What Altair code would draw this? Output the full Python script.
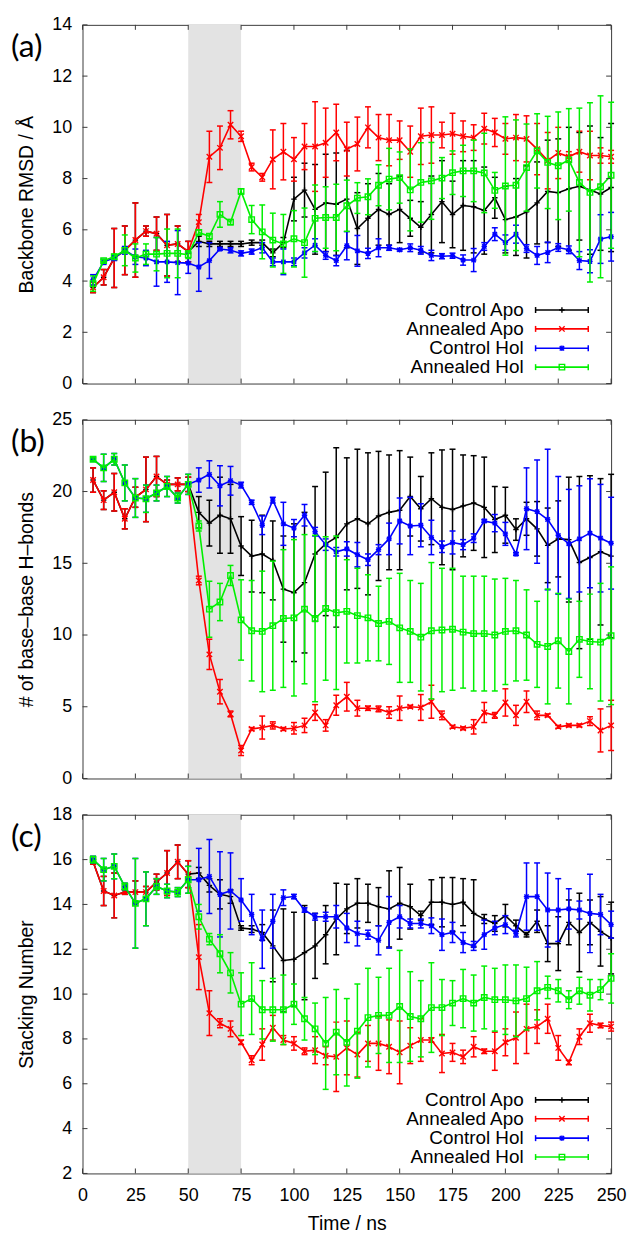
import altair as alt
import pandas as pd

TIME = [5, 10, 15, 20, 25, 30, 35, 40, 45, 50,
        55, 60, 65, 70, 75, 80, 85, 90, 95, 100,
        105, 110, 115, 120, 125, 130, 135, 140, 145, 150,
        155, 160, 165, 170, 175, 180, 185, 190, 195, 200,
        205, 210, 215, 220, 225, 230, 235, 240, 245, 250]

SERIES = ["Control Apo", "Annealed Apo", "Control Hol", "Annealed Hol"]
COLORS = ["#000000", "#ff0000", "#0000ff", "#00f000"]
SHAPES = ["M-1,0L1,0M0,-1L0,1",
          "M-1,-1L1,1M-1,1L1,-1",
          "M-1,0L1,0M0,-1L0,1M-0.8,-0.8L0.8,0.8M-0.8,0.8L0.8,-0.8",
          "square"]
SHADE_START = [50]
SHADE_END = [75]
X_TICKS = [0, 25, 50, 75, 100, 125, 150, 175, 200, 225, 250]

# ---------------- (a) Backbone RMSD ----------------
A_CA = [3.75, 4.15, 4.9, 5.2, 5.6, 5.95, 5.85, 5.4, 5.45, 5.15,
        5.55, 5.45, 5.45, 5.45, 5.45, 5.5, 5.5, 5.1, 5.5, 7.2,
        7.55, 6.8, 7.05, 7.0, 7.2, 6.05, 6.45, 6.8, 6.6, 6.8,
        6.45, 6.1, 6.6, 7.1, 6.6, 6.95, 6.9, 6.75, 7.25, 6.4,
        6.5, 6.7, 7.05, 7.5, 7.45, 7.6, 7.7, 7.55, 7.4, 7.65]
A_CA_ERR = [0.2, 0.3, 1.15, 0.95, 1.45, 0.2, 0.65, 1.2, 0.7, 0.4,
            0.2, 0.1, 0.1, 0.1, 0.1, 0.1, 0.1, 0.15, 0.2, 0.85,
            1.05, 1.75, 1.9, 2.0, 1.9, 1.4, 1.35, 1.4, 1.2, 1.3,
            0.7, 1.0, 1.5, 1.6, 1.3, 1.75, 1.8, 1.7, 0.8, 1.3,
            1.5, 1.8, 1.6, 2.0, 2.1, 2.4, 2.1, 2.5, 2.2, 2.5]
A_AA = [3.75, 4.15, 4.9, 5.2, 5.6, 5.95, 5.85, 5.4, 5.45, 5.15,
        6.3, 8.85, 9.2, 10.1, 9.65, 8.45, 8.05, 8.75, 9.05, 8.75,
        9.25, 9.25, 9.4, 9.8, 9.15, 9.35, 10.0, 9.6, 9.5, 9.5,
        9.05, 9.65, 9.7, 9.7, 9.75, 9.65, 9.6, 9.95, 9.8, 9.55,
        9.6, 9.55, 9.15, 8.7, 9.0, 8.85, 9.05, 8.9, 8.9, 8.85]
A_AA_ERR = [0.2, 0.3, 1.15, 0.95, 1.45, 0.2, 0.65, 1.2, 0.7, 0.4,
            0.3, 1.0, 0.85, 0.55, 0.2, 0.15, 0.15, 1.15, 1.1, 0.85,
            0.9, 1.75, 1.35, 1.1, 1.05, 1.05, 0.8, 0.9, 1.0, 0.75,
            1.0, 1.1, 1.1, 0.5, 0.8, 0.6, 0.5, 0.6, 0.55, 0.6,
            0.9, 0.9, 1.0, 1.1, 1.0, 0.2, 0.8, 0.95, 0.3, 0.25]
A_CH = [4.05, 4.75, 4.9, 5.2, 4.95, 4.9, 4.75, 4.75, 4.72, 4.7,
        4.55, 4.8, 5.25, 5.2, 5.08, 5.15, 5.3, 4.75, 4.75, 4.75,
        5.1, 5.4, 5.0, 4.8, 5.38, 5.18, 5.08, 5.3, 5.3, 5.22,
        5.3, 5.2, 5.0, 4.97, 4.99, 4.82, 4.82, 5.35, 5.83, 5.5,
        5.83, 5.27, 5.0, 5.12, 5.31, 5.22, 4.8, 4.77, 5.64, 5.73]
A_CH_ERR = [0.2, 0.1, 0.1, 0.15, 0.3, 0.3, 0.95, 0.8, 1.25, 0.4,
            0.95, 0.7, 0.05, 0.1, 0.1, 0.1, 0.2, 0.15, 0.5, 0.15,
            0.2, 0.25, 0.15, 0.2, 0.55, 0.6, 0.2, 0.35, 0.1, 0.05,
            0.15, 0.15, 0.2, 0.1, 0.1, 0.2, 0.45, 0.15, 0.25, 0.3,
            0.35, 0.15, 0.35, 0.4, 0.15, 0.15, 0.35, 0.45, 0.95, 0.95]
A_AH = [3.9, 4.8, 4.95, 5.2, 4.9, 5.05, 5.05, 5.08, 5.08, 5.03,
        5.9, 5.75, 6.6, 6.3, 7.5, 6.4, 5.92, 5.6, 5.45, 5.65,
        5.5, 6.45, 6.48, 6.48, 6.94, 7.24, 7.29, 7.74, 7.98, 8.04,
        7.56, 7.85, 7.91, 8.02, 8.23, 8.3, 8.3, 8.22, 7.54, 7.71,
        7.74, 8.43, 9.08, 8.63, 8.5, 8.73, 7.85, 7.46, 7.68, 8.13]
A_AH_ERR = [0.3, 0.05, 0.1, 0.6, 0.55, 0.4, 0.65, 0.95, 0.95, 0.15,
            0.1, 0.1, 0.5, 0.1, 0.1, 0.55, 1.05, 1.05, 1.15, 1.1,
            1.35, 1.3, 1.2, 1.3, 1.0, 0.6, 0.7, 0.8, 1.2, 1.0,
            1.6, 1.55, 1.5, 0.8, 0.85, 1.0, 1.2, 1.55, 0.7, 2.7,
            2.55, 1.7, 1.45, 1.8, 2.1, 2.0, 2.9, 3.5, 3.55, 2.85]

# ---------------- (b) base-base H-bonds ----------------
B_CA = [20.8, 19.4, 19.95, 18.1, 19.6, 20.15, 21.05, 20.5, 20.5, 20.5,
        18.55, 17.8, 18.35, 18.1, 16.2, 15.5, 15.65, 15.2, 13.2, 12.95,
        13.65, 15.65, 16.35, 16.8, 17.75, 18.1, 17.75, 18.3, 18.55, 18.7,
        19.65, 18.8, 19.5, 18.9, 18.75, 19.0, 19.2, 18.9, 18.05, 18.35,
        17.35, 18.1, 17.4, 16.25, 16.7, 16.65, 15.05, 15.4, 15.8, 15.5]
B_CA_ERR = [0.85, 0.65, 1.3, 0.7, 0.7, 2.25, 1.4, 0.3, 0.45, 0.5,
            1.1, 1.6, 2.65, 2.4, 2.05, 2.5, 2.7, 2.75, 3.7, 4.8,
            4.9, 4.7, 5.0, 6.25, 4.6, 4.85, 4.95, 4.5, 4.0, 4.15,
            2.75, 2.25, 3.2, 4.0, 4.2, 3.55, 3.3, 3.5, 2.3, 1.95,
            0.75, 1.15, 1.9, 2.6, 2.65, 4.35, 6.0, 5.7, 5.1, 5.7]
B_AA = [20.8, 19.4, 19.95, 18.1, 19.6, 20.15, 21.05, 20.5, 20.5, 20.5,
        13.8, 8.65, 6.05, 4.5, 1.95, 3.45, 3.55, 3.7, 3.45, 3.5,
        3.7, 4.6, 3.7, 5.1, 5.7, 4.9, 4.9, 4.85, 4.6, 4.9,
        5.0, 4.95, 5.35, 4.4, 3.6, 3.5, 3.6, 4.6, 4.4, 5.3,
        4.4, 5.35, 4.4, 4.4, 3.6, 3.7, 3.7, 4.0, 3.35, 3.7]
B_AA_ERR = [0.85, 0.65, 1.3, 0.7, 0.7, 2.25, 1.4, 0.3, 0.45, 0.5,
            0.3, 1.05, 0.85, 0.2, 0.35, 0.1, 0.8, 0.25, 0.1, 0.4,
            0.5, 0.55, 0.4, 0.7, 1.0, 0.55, 0.15, 0.2, 0.4, 0.85,
            0.1, 0.9, 1.15, 0.3, 0.1, 0.1, 0.5, 0.7, 0.2, 0.95,
            0.7, 0.75, 0.3, 0.1, 0.1, 0.1, 0.1, 0.3, 1.5, 1.75]
B_CH = [22.25, 21.65, 22.25, 20.6, 19.55, 19.5, 19.9, 20.35, 19.55, 20.5,
        20.8, 21.2, 20.4, 20.75, 20.45, 19.25, 17.65, 19.4, 17.75, 17.45,
        18.35, 17.2, 16.3, 15.8, 16.0, 15.6, 15.25, 15.95, 16.7, 17.95,
        17.6, 17.65, 16.8, 16.15, 16.45, 16.3, 16.75, 17.95, 17.8, 17.05,
        15.65, 18.8, 18.6, 18.05, 16.95, 16.35, 16.7, 17.1, 16.75, 16.4]
B_CH_ERR = [0.1, 0.95, 0.4, 1.25, 1.35, 0.95, 0.55, 0.7, 0.35, 0.7,
            0.85, 0.95, 1.4, 1.0, 0.2, 0.15, 0.65, 0.2, 1.5, 0.6,
            0.75, 0.3, 0.4, 0.3, 0.5, 0.85, 0.4, 0.35, 1.1, 1.6,
            2.0, 1.5, 1.2, 0.4, 0.8, 0.35, 0.3, 0.1, 0.6, 0.8,
            0.1, 2.85, 3.6, 4.9, 4.1, 3.8, 3.7, 3.8, 3.75, 3.2]
B_AH = [22.25, 21.65, 22.25, 20.6, 19.55, 19.5, 19.9, 20.35, 19.55, 20.5,
        17.6, 11.8, 12.3, 14.15, 11.05, 10.3, 10.25, 10.65, 11.15, 11.2,
        11.8, 11.15, 11.85, 11.55, 11.65, 11.35, 11.2, 10.8, 10.95, 10.5,
        10.25, 9.85, 10.3, 10.35, 10.4, 10.2, 10.1, 10.1, 10.0, 10.25,
        10.3, 10.0, 9.35, 9.2, 9.6, 8.85, 9.7, 9.55, 9.5, 9.95]
B_AH_ERR = [0.1, 0.95, 0.4, 1.25, 1.35, 0.95, 0.55, 0.7, 0.35, 0.7,
            0.35, 1.95, 1.3, 0.7, 2.8, 3.5, 4.2, 4.5, 4.8, 5.45,
            5.2, 5.8, 5.0, 5.35, 3.6, 3.3, 3.0, 2.6, 3.0, 3.8,
            3.55, 3.75, 4.75, 4.3, 4.25, 3.9, 4.0, 4.0, 3.9, 3.7,
            3.5, 3.15, 3.0, 4.0, 3.3, 3.65, 2.65, 3.3, 4.1, 4.8]

# ---------------- (c) Stacking number ----------------
C_CA = [15.9, 14.6, 14.4, 14.55, 14.55, 14.55, 15.0, 15.4, 15.9, 15.35,
        15.4, 14.85, 14.45, 14.35, 12.95, 12.9, 12.75, 12.15, 11.5, 11.55,
        11.85, 12.15, 12.65, 13.35, 13.8, 14.05, 14.05, 13.9, 13.8, 14.05,
        13.9, 13.5, 14.1, 14.1, 14.0, 14.1, 13.6, 13.35, 13.15, 13.5,
        13.05, 12.65, 13.25, 12.25, 12.25, 13.2, 12.75, 13.2, 12.8, 12.5]
C_CA_ERR = [0.1, 0.65, 1.0, 0.1, 0.5, 0.25, 0.35, 1.0, 0.75, 0.6,
            0.25, 0.3, 0.65, 0.3, 0.1, 0.15, 0.35, 1.6, 2.3, 2.1,
            2.1, 1.45, 1.3, 1.6, 1.1, 1.1, 0.85, 0.85, 1.7, 1.6,
            1.0, 0.2, 1.0, 1.1, 1.2, 1.05, 1.5, 0.2, 0.35, 0.5,
            0.25, 0.1, 0.5, 0.8, 1.2, 1.0, 1.75, 1.0, 1.55, 1.6]
C_AA = [15.9, 14.6, 14.4, 14.55, 14.55, 14.55, 15.0, 15.4, 15.9, 15.35,
        11.65, 9.15, 8.7, 8.45, 7.85, 7.05, 7.75, 8.5, 7.95, 7.8,
        7.45, 7.5, 7.25, 7.2, 7.6, 7.3, 7.8, 7.8, 7.65, 7.4,
        7.7, 7.95, 7.95, 7.35, 7.4, 7.2, 7.65, 7.45, 7.45, 7.85,
        8.05, 8.45, 8.55, 8.9, 7.6, 6.95, 8.1, 8.7, 8.6, 8.55]
C_AA_ERR = [0.1, 0.65, 1.0, 0.1, 0.5, 0.25, 0.35, 1.0, 0.75, 0.6,
            1.45, 1.0, 0.2, 0.35, 0.1, 0.2, 0.7, 0.55, 0.2, 0.3,
            0.15, 0.6, 0.4, 1.55, 1.2, 1.0, 0.8, 1.2, 1.2, 1.4,
            0.8, 0.95, 0.1, 0.85, 0.4, 0.3, 0.45, 0.1, 0.85, 0.6,
            1.15, 1.1, 0.75, 0.65, 0.55, 0.1, 0.35, 0.4, 0.1, 0.2]
C_CH = [16.0, 15.55, 15.7, 14.8, 14.05, 14.25, 14.8, 14.6, 14.55, 15.1,
        15.1, 15.25, 14.45, 14.6, 14.2, 13.55, 12.45, 13.25, 14.3, 14.35,
        13.75, 13.45, 13.45, 13.45, 12.95, 12.7, 12.65, 12.4, 13.2, 13.45,
        13.15, 13.15, 13.05, 12.65, 12.75, 12.3, 12.15, 12.65, 12.95, 13.1,
        12.7, 14.35, 14.35, 13.75, 13.75, 13.8, 13.75, 13.6, 13.55, 13.1]
C_CH_ERR = [0.15, 0.5, 0.55, 0.15, 2.0, 1.2, 0.35, 0.3, 0.2, 0.6,
            1.4, 1.65, 1.9, 1.7, 0.95, 0.9, 1.3, 1.2, 0.35, 0.1,
            0.1, 0.15, 0.2, 0.5, 0.65, 0.55, 0.2, 0.65, 1.15, 0.5,
            0.2, 0.2, 0.35, 0.7, 0.45, 0.45, 0.2, 0.65, 0.3, 0.4,
            0.15, 1.5, 1.5, 1.65, 1.4, 0.9, 0.4, 1.75, 0.9, 0.6]
C_AH = [16.0, 15.55, 15.7, 14.8, 14.05, 14.25, 14.8, 14.6, 14.55, 15.1,
        13.45, 12.45, 11.8, 10.95, 9.55, 9.8, 9.3, 9.3, 9.3, 9.55,
        8.9, 8.45, 7.8, 8.3, 7.85, 8.35, 8.95, 9.05, 9.05, 9.45,
        9.0, 8.9, 9.4, 9.4, 9.6, 9.8, 9.6, 9.85, 9.75, 9.75,
        9.7, 9.8, 10.15, 10.3, 10.15, 9.75, 10.15, 9.95, 10.2, 10.7]
C_AH_ERR = [0.15, 0.5, 0.55, 0.15, 2.0, 1.2, 0.35, 0.3, 0.2, 0.6,
            0.55, 0.25, 0.85, 0.9, 1.4, 1.6, 1.3, 1.4, 1.55, 0.9,
            0.95, 1.15, 2.05, 1.9, 1.95, 2.1, 2.2, 1.7, 2.1, 2.5,
            2.0, 1.7, 2.0, 1.25, 1.0, 1.3, 1.25, 1.4, 1.4, 1.55,
            1.6, 1.4, 1.3, 0.5, 0.5, 0.4, 0.6, 0.7, 0.45, 1.1]

W, H = 532, 361
FRAME = "#3a3a3a"
FONT = "Liberation Sans"
LW = 1.6


def panel(means, errs, ydom, yticks, ytitle, tag, show_legend, show_x):
    xs = alt.Scale(domain=[0, 250], nice=False, zero=False)
    ys = alt.Scale(domain=ydom, nice=False, zero=False)
    if show_x:
        x_axis = alt.Axis(values=X_TICKS, title="Time / ns", labelPadding=13,
                          titlePadding=10, labelFlush=False)
    else:
        x_axis = None
    y_axis = alt.Axis(values=yticks, title=ytitle, labelPadding=11, titlePadding=15,
                      labelFlush=False)

    def X(f):
        return alt.X(f, scale=xs, axis=x_axis)

    def Y(f):
        return alt.Y(f, scale=ys, axis=y_axis)

    layers = []
    shade = alt.Chart(pd.DataFrame({"a": SHADE_START, "b": SHADE_END})).mark_rect(
        color="#e3e3e3").encode(
        x=X("a:Q"), x2="b:Q", y=alt.value(0), y2=alt.value(H))
    layers.append(shade)

    for i in range(4):
        c = COLORS[i]
        df = pd.DataFrame({"t": TIME, "m": means[i], "e": errs[i]})
        base = alt.Chart(df).transform_calculate(lo="datum.m - datum.e",
                                                 hi="datum.m + datum.e")
        bars = base.mark_rule(color=c, strokeWidth=1.5).encode(
            x=X("t:Q"), y=Y("lo:Q"), y2="hi:Q")
        caps = base.transform_fold(["lo", "hi"], as_=["k", "v"]).mark_tick(
            color=c, orient="horizontal", size=6, thickness=1.5, opacity=1).encode(
            x=X("t:Q"), y=Y("v:Q"))
        line = base.mark_line(color=c, strokeWidth=LW).encode(x=X("t:Q"), y=Y("m:Q"))
        pts = base.mark_point(shape=SHAPES[i], size=30, filled=False, strokeWidth=1.4,
                              color=c, opacity=1).encode(x=X("t:Q"), y=Y("m:Q"))
        layers += [bars, caps, line, pts]

    # inward mirrored ticks
    xt = alt.Chart(pd.DataFrame({"v": X_TICKS}))
    yt = alt.Chart(pd.DataFrame({"v": yticks}))
    layers.append(xt.mark_rule(color=FRAME, strokeWidth=1).encode(
        x=X("v:Q"), y=alt.value(H - 5), y2=alt.value(H)))
    layers.append(xt.mark_rule(color=FRAME, strokeWidth=1).encode(
        x=X("v:Q"), y=alt.value(0), y2=alt.value(5)))
    layers.append(yt.mark_rule(color=FRAME, strokeWidth=1).encode(
        y=Y("v:Q"), x=alt.value(0), x2=alt.value(5)))
    layers.append(yt.mark_rule(color=FRAME, strokeWidth=1).encode(
        y=Y("v:Q"), x=alt.value(W - 5), x2=alt.value(W)))

    # panel tag
    layers.append(alt.Chart(pd.DataFrame({"s": [tag]})).mark_text(
        font="Lato", fontSize=32, align="left", baseline="middle", color="#000").encode(
        x=alt.value(-72), y=alt.value(22), text="s:N"))

    if show_legend:
        rows = [H - 74, H - 55, H - 35.5, H - 16.5]
        for i, name in enumerate(SERIES):
            c = COLORS[i]
            ry = rows[i]
            ld = alt.Chart(pd.DataFrame({"s": [name]}))
            layers.append(ld.mark_text(font=FONT, fontSize=19, align="right",
                                       baseline="middle", color="#000").encode(
                x=alt.value(444), y=alt.value(ry), text="s:N"))
            layers.append(ld.mark_rule(color=c, strokeWidth=LW).encode(
                x=alt.value(456), x2=alt.value(509), y=alt.value(ry)))
            layers.append(ld.mark_rule(color=c, strokeWidth=1.5).encode(
                x=alt.value(456), y=alt.value(ry - 3), y2=alt.value(ry + 3)))
            layers.append(ld.mark_rule(color=c, strokeWidth=1.5).encode(
                x=alt.value(509), y=alt.value(ry - 3), y2=alt.value(ry + 3)))
            layers.append(ld.mark_point(shape=SHAPES[i], size=30, filled=False,
                                        strokeWidth=1.4, color=c, opacity=1).encode(
                x=alt.value(482.5), y=alt.value(ry)))

    return alt.layer(*layers).properties(width=W, height=H)


pa = panel([A_CA, A_AA, A_CH, A_AH], [A_CA_ERR, A_AA_ERR, A_CH_ERR, A_AH_ERR],
           [0, 14], [0, 2, 4, 6, 8, 10, 12, 14], "Backbone RMSD / Å", "(a)", True, False)
pb = panel([B_CA, B_AA, B_CH, B_AH], [B_CA_ERR, B_AA_ERR, B_CH_ERR, B_AH_ERR],
           [0, 25], [0, 5, 10, 15, 20, 25], "# of base–base H–bonds", "(b)", False, False)
pc = panel([C_CA, C_AA, C_CH, C_AH], [C_CA_ERR, C_AA_ERR, C_CH_ERR, C_AH_ERR],
           [2, 18], [2, 4, 6, 8, 10, 12, 14, 16, 18], "Stacking Number", "(c)", True, True)

chart = alt.vconcat(pa, pb, pc, spacing=16.5).properties(
    padding={"left": 2, "top": 3, "right": 0, "bottom": 0}
).configure_view(
    stroke=FRAME, strokeWidth=1
).configure_axis(
    labelFont=FONT, labelFontSize=18, labelColor="#000",
    titleFont=FONT, titleFontSize=19.5, titleFontWeight="normal", titleColor="#000",
    ticks=False, tickSize=0, domain=False, grid=False
)

chart.save("out.html", embed_options={"renderer": "svg", "actions": False})
